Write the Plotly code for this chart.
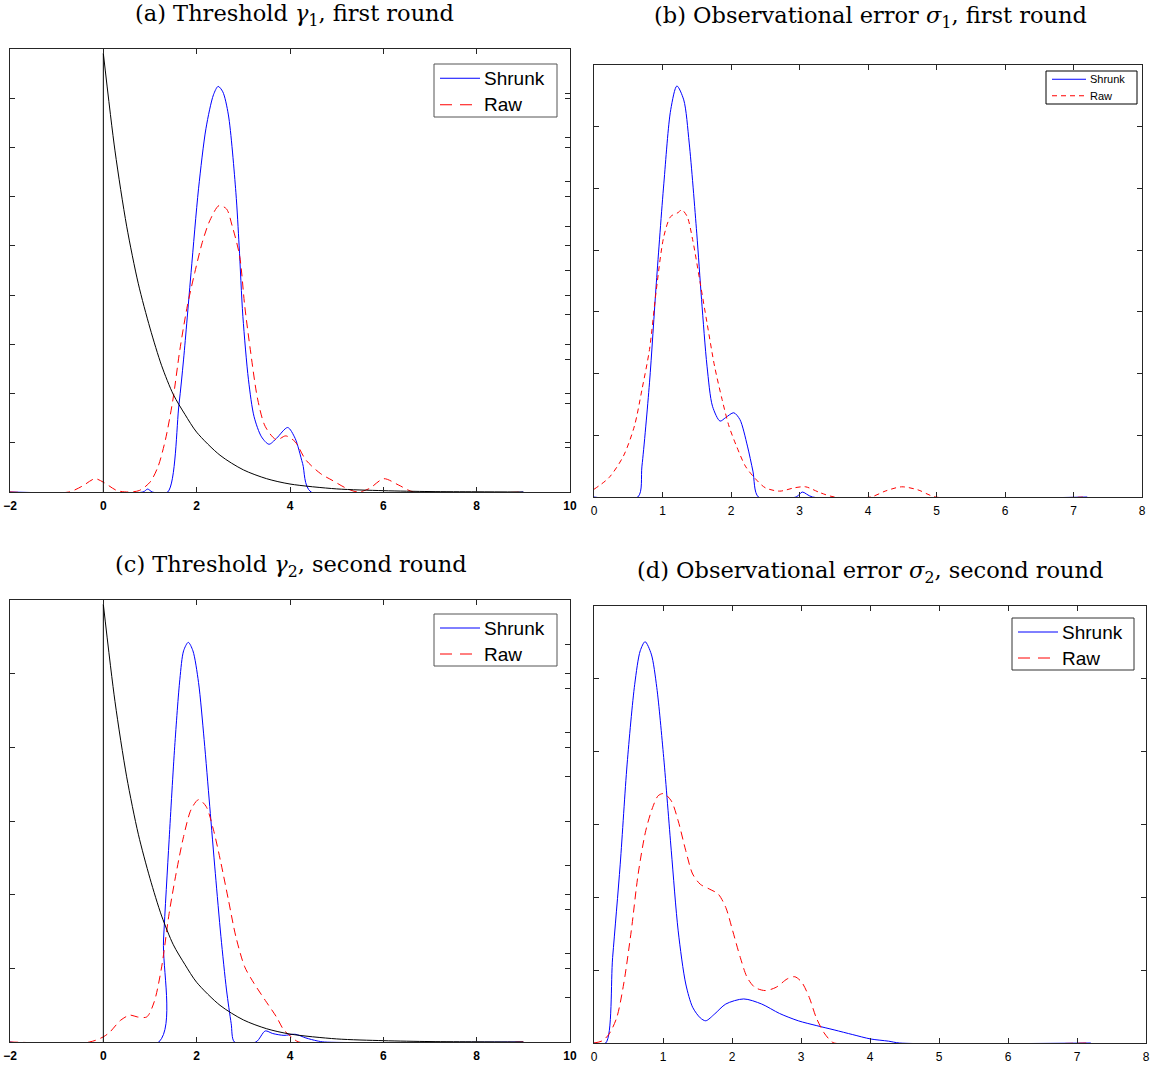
import plotly.graph_objects as go

# ---------------- panel (a): threshold gamma_1, first round ----------------
a_shrunk_x = [-2, 0.85, 0.95, 1.05, 1.38, 1.62, 1.72, 1.88, 2.04, 2.2, 2.36, 2.46, 2.56, 2.68, 2.84,
              2.91, 2.99, 3.11, 3.23, 3.39, 3.55, 3.71, 3.95, 4.11, 4.27, 4.45, 9]
a_shrunk_y = [0, 0, 0.006, 0, 0, 0.177, 0.27, 0.446, 0.616, 0.739, 0.807, 0.824, 0.813, 0.766, 0.609,
              0.5, 0.357, 0.228, 0.153, 0.112, 0.097, 0.109, 0.131, 0.109, 0.058, 0, 0]
a_raw_x = [-2, -0.74, -0.45, -0.18, 0, 0.29, 0.53, 0.77, 1.0, 1.17, 1.33, 1.49, 1.64, 1.8, 1.96, 2.12,
           2.28, 2.48, 2.64, 2.76, 2.92, 3.03, 3.15, 3.31, 3.47, 3.71, 3.91, 4.11, 4.34, 4.66, 4.9,
           5.22, 5.46, 5.7, 6.01, 6.33, 6.65, 9]
a_raw_y = [0, 0, 0.012, 0.027, 0.02, 0.003, 0, 0.003, 0.02, 0.051, 0.106, 0.187, 0.289, 0.378, 0.446,
           0.507, 0.551, 0.582, 0.575, 0.541, 0.48, 0.378, 0.289, 0.187, 0.133, 0.106, 0.114, 0.102,
           0.065, 0.037, 0.024, 0.007, 0, 0.007, 0.027, 0.014, 0, 0]

# ---------------- panel (b): observational error sigma_1, first round ----------------
b_shrunk_x = [0, 0.64, 0.70, 0.81, 0.91, 1.02, 1.12, 1.21, 1.31, 1.39, 1.5, 1.57, 1.65, 1.73, 1.84,
              1.92, 2.04, 2.13, 2.24, 2.32, 2.4, 2.95, 3.04, 3.19, 7.2]
b_shrunk_y = [0, 0, 0.1, 0.37, 0.694, 1.017, 1.255, 1.332, 1.287, 1.147, 0.855, 0.64, 0.424, 0.294,
              0.246, 0.257, 0.273, 0.251, 0.165, 0.084, 0, 0, 0.016, 0, 0]
b_raw_x = [0, 0.22, 0.43, 0.59, 0.7, 0.81, 0.91, 1.02, 1.12, 1.23, 1.28, 1.36, 1.44, 1.55, 1.65, 1.76,
           1.87, 1.97, 2.08, 2.21, 2.34, 2.5, 2.71, 2.93, 3.09, 3.3, 3.51, 4.04, 4.25, 4.49, 4.73, 4.99, 7.2]
b_raw_y = [0.025, 0.063, 0.133, 0.23, 0.348, 0.478, 0.672, 0.845, 0.909, 0.922, 0.931, 0.909, 0.834,
           0.694, 0.564, 0.424, 0.316, 0.23, 0.165, 0.1, 0.063, 0.03, 0.019, 0.03, 0.033, 0.014, 0,
           0, 0.019, 0.033, 0.023, 0, 0]

# ---------------- panel (c): threshold gamma_2, second round ----------------
c_shrunk_x = [-2, 1.19, 1.29, 1.41, 1.53, 1.64, 1.72, 1.82, 1.92, 2.04, 2.16, 2.28, 2.4, 2.52, 2.64,
              2.74, 2.81, 3.27, 3.47, 3.63, 3.87, 4.11, 4.34, 4.58, 4.74, 9]
c_shrunk_y = [0, 0, 0.277, 0.549, 0.803, 0.985, 1.062, 1.085, 1.062, 0.976, 0.821, 0.64, 0.458, 0.286,
              0.141, 0.05, 0, 0, 0.03, 0.023, 0.018, 0.021, 0.011, 0.003, 0, 0]
c_raw_x = [-2, -0.3, 0, 0.14, 0.37, 0.57, 0.73, 0.93, 1.09, 1.25, 1.41, 1.56, 1.72, 1.88, 2.04, 2.2,
           2.36, 2.52, 2.68, 2.84, 3.03, 3.23, 3.47, 3.71, 3.87, 4.03, 4.19, 9]
c_raw_y = [0, 0, 0.014, 0.027, 0.059, 0.073, 0.068, 0.068, 0.109, 0.204, 0.349, 0.458, 0.558, 0.631,
           0.658, 0.64, 0.576, 0.486, 0.386, 0.286, 0.204, 0.159, 0.113, 0.068, 0.032, 0.014, 0, 0]

# ---------------- panel (d): observational error sigma_2, second round ----------------
d_shrunk_x = [0, 0.17, 0.27, 0.38, 0.48, 0.59, 0.67, 0.74, 0.83, 0.91, 1.01, 1.12, 1.22, 1.33, 1.43,
              1.54, 1.62, 1.75, 1.91, 2.17, 2.43, 2.69, 2.96, 3.22, 3.48, 3.75, 4.01, 4.27, 4.43, 7.2]
d_shrunk_y = [0, 0, 0.235, 0.491, 0.766, 0.985, 1.077, 1.102, 1.068, 0.976, 0.784, 0.528, 0.308, 0.162,
              0.098, 0.069, 0.061, 0.08, 0.107, 0.121, 0.107, 0.081, 0.061, 0.048, 0.036, 0.023, 0.011,
              0.005, 0, 0]
d_raw_x = [0, 0.12, 0.22, 0.33, 0.43, 0.54, 0.64, 0.75, 0.85, 0.93, 1.01, 1.12, 1.22, 1.33, 1.43, 1.54,
           1.67, 1.8, 1.91, 2.01, 2.12, 2.22, 2.33, 2.48, 2.64, 2.8, 2.91, 3.01, 3.12, 3.22, 3.33, 3.43,
           3.48, 7.2]
d_raw_y = [0, 0.006, 0.025, 0.07, 0.162, 0.308, 0.464, 0.583, 0.647, 0.679, 0.685, 0.665, 0.61, 0.528,
           0.464, 0.436, 0.423, 0.409, 0.372, 0.308, 0.235, 0.18, 0.153, 0.144, 0.153, 0.176, 0.182,
           0.167, 0.125, 0.07, 0.029, 0.006, 0, 0]

# ---------------- exponential prior on the thresholds (right-hand axis) ----------------
prior_x = [0, 0.25, 0.5, 0.75, 1.0, 1.25, 1.5, 1.75, 2.0, 2.5, 3.0, 3.5, 4.0, 5.0, 6.0, 7.0, 8.0, 9.0]
prior_y = [0.99, 0.77, 0.6, 0.47, 0.37, 0.285, 0.22, 0.175, 0.135, 0.083, 0.05, 0.03, 0.018, 0.007,
           0.003, 0.001, 0.0005, 0.0]

series_names = ["Shrunk", "Raw"]

titles = ["(a) Threshold <i>γ</i><sub>1</sub>, first round",
          "(b) Observational error <i>σ</i><sub>1</sub>, first round",
          "(c) Threshold <i>γ</i><sub>2</sub>, second round",
          "(d) Observational error <i>σ</i><sub>2</sub>, second round"]

W, H = 1150, 1067


def px_x(p):
    return p / W


def px_y(p):
    return 1 - p / H


# frame boxes in pixels: left, top, right, bottom
frames = {
    "a": (10, 49, 570, 492),
    "b": (594, 65, 1142, 497),
    "c": (10, 600, 570, 1042),
    "d": (594, 606, 1146, 1043),
}

# legend boxes in pixels: left, top, right, bottom, font size, border colour, sample dash
legend_boxes = {
    "a": (434, 64, 557, 117, 19, "#555555", "12px,8px"),
    "b": (1046, 71, 1137, 104, 11, "#000000", "5px,4px"),
    "c": (434, 614, 557, 666, 19, "#555555", "12px,8px"),
    "d": (1012, 618, 1134, 670, 19, "#333333", "12px,8px"),
}

fig = go.Figure()

BLUE = "#0000ff"
RED = "#ff0000"
FRAME = "#262626"

panels = [
    ("a", a_shrunk_x, a_shrunk_y, a_raw_x, a_raw_y, True, [-2, 10], 2, [0, 0.9], 0.1),
    ("b", b_shrunk_x, b_shrunk_y, b_raw_x, b_raw_y, False, [0, 8], 1, [0, 1.4], 0.2),
    ("c", c_shrunk_x, c_shrunk_y, c_raw_x, c_raw_y, True, [-2, 10], 2, [0, 1.2], 0.2),
    ("d", d_shrunk_x, d_shrunk_y, d_raw_x, d_raw_y, False, [0, 8], 1, [0, 1.2], 0.2),
]

layout_axes = {}
shapes = []
axis_num = 1
for key, sx, sy, rx, ry, has_prior, xr, xd, yr, yd in panels:
    L, T, R, B = frames[key]
    n = axis_num
    xa = "x" if n == 1 else f"x{n}"
    ya = "y" if n == 1 else f"y{n}"
    bold = "bold" if has_prior else "normal"
    dash = "8px,5px" if key in ("a", "c", "d") else "5px,4px"

    fig.add_trace(go.Scatter(x=sx, y=sy, mode="lines", name=series_names[0], xaxis=xa, yaxis=ya,
                             showlegend=False,
                             line=dict(color=BLUE, width=1, shape="spline", smoothing=0.8)))
    fig.add_trace(go.Scatter(x=rx, y=ry, mode="lines", name=series_names[1], xaxis=xa, yaxis=ya,
                             showlegend=False,
                             line=dict(color=RED, width=1, dash=dash, shape="spline",
                                       smoothing=0.8)))

    layout_axes[f"xaxis{'' if n == 1 else n}"] = dict(
        domain=[px_x(L), px_x(R)], anchor=ya, range=xr, dtick=xd, tick0=0,
        ticks="inside", ticklen=5, tickcolor=FRAME, showline=True, linecolor=FRAME, linewidth=1,
        mirror="ticks", showgrid=False, zeroline=False, automargin=False,
        ticklabelstandoff=3,
        tickfont=dict(family="Liberation Sans", size=12, color="#000000", weight=bold),
    )
    layout_axes[f"yaxis{'' if n == 1 else n}"] = dict(
        domain=[px_y(B), px_y(T)], anchor=xa, range=yr, dtick=yd, tick0=0,
        ticks="inside", ticklen=5, tickcolor=FRAME, showline=True, linecolor=FRAME, linewidth=1,
        mirror="ticks", showgrid=False, zeroline=False, showticklabels=False, automargin=False,
    )
    axis_num += 1

    if has_prior:
        # overlaid right-hand axis carrying the exponential prior density
        ya2 = f"y{n + 10}"
        fig.add_trace(go.Scatter(x=[0, 0], y=[0, prior_y[0]], mode="lines", showlegend=False,
                                 xaxis=xa, yaxis=ya2, line=dict(color="#000000", width=1)))
        fig.add_trace(go.Scatter(x=prior_x, y=prior_y, mode="lines", showlegend=False,
                                 xaxis=xa, yaxis=ya2, name="Prior",
                                 line=dict(color="#000000", width=1, shape="spline", smoothing=0.8)))
        layout_axes[f"yaxis{n + 10}"] = dict(
            overlaying=ya, side="right", anchor=xa, range=[0, 1], dtick=0.1, tick0=0,
            ticks="inside", ticklen=5, tickcolor=FRAME, showline=False, showgrid=False,
            zeroline=False, showticklabels=False, automargin=False,
        )

    # legend box: frame, two line samples and their labels
    lL, lT, lR, lB, fs, bc, ldash = legend_boxes[key]
    shapes.append(dict(type="rect", xref="paper", yref="paper",
                       x0=px_x(lL), x1=px_x(lR), y0=px_y(lB), y1=px_y(lT),
                       line=dict(color=bc, width=1), fillcolor="#ffffff", layer="above"))
    row_h = (lB - lT) / 2
    sample_len = 40 if fs > 12 else 34
    for i, (name, col, dsh) in enumerate([(series_names[0], BLUE, "solid"),
                                          (series_names[1], RED, ldash)]):
        yc = lT + row_h * (i + 0.5) + (1 if fs > 12 else 0)
        shapes.append(dict(type="line", xref="paper", yref="paper",
                           x0=px_x(lL + 6), x1=px_x(lL + 6 + sample_len),
                           y0=px_y(yc), y1=px_y(yc),
                           line=dict(color=col, width=1, dash=dsh), layer="above"))
        fig.add_annotation(text=name, x=px_x(lL + 8 + sample_len), y=px_y(yc),
                           xref="paper", yref="paper", xanchor="left", yanchor="middle",
                           showarrow=False,
                           font=dict(family="Liberation Sans", size=fs, color="#000000"))

fig.update_layout(**layout_axes)

title_pos = [(294, 15), (870, 17), (291, 566), (870, 572)]
for text, (cx, cy) in zip(titles, title_pos):
    fig.add_annotation(text=text, x=px_x(cx), y=px_y(cy), xref="paper", yref="paper",
                       xanchor="center", yanchor="middle", showarrow=False,
                       font=dict(family="DejaVu Serif", size=22.5, color="#000000"))

fig.update_layout(width=W, height=H, margin=dict(l=0, r=0, t=0, b=0), shapes=shapes,
                  paper_bgcolor="#ffffff", plot_bgcolor="#ffffff", showlegend=False)

fig.write_html("out.html")
